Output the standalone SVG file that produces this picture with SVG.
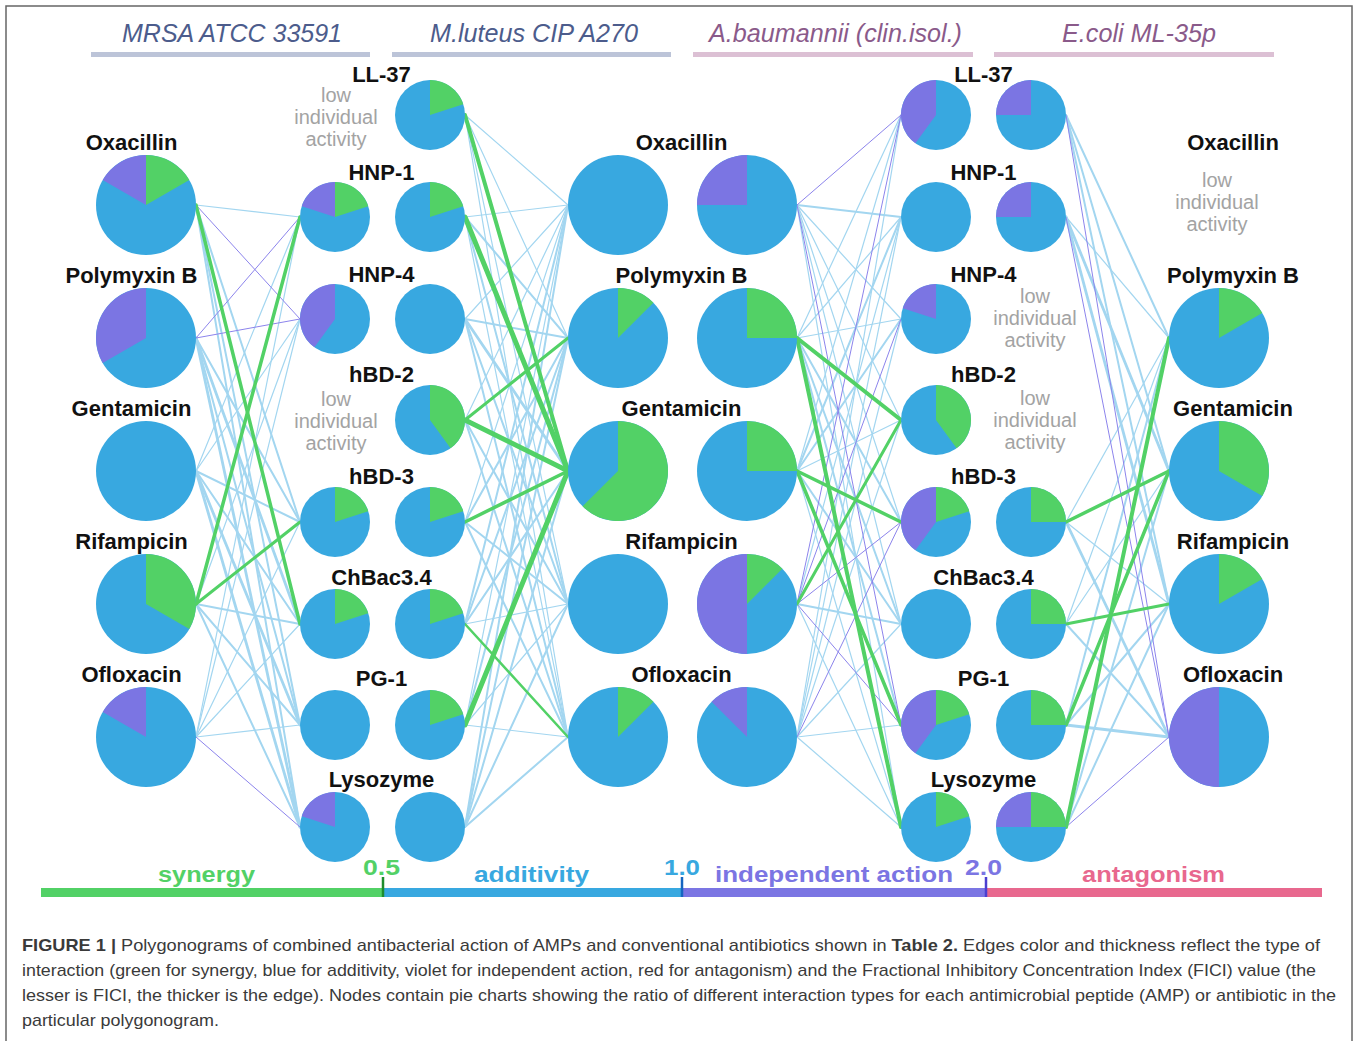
<svg xmlns="http://www.w3.org/2000/svg" width="1358" height="1041" viewBox="0 0 1358 1041">
<style>
.bl{stroke:#A3D6F0;fill:none;stroke-linecap:round}
.w1{stroke-width:1.2}.w2{stroke-width:2}.w3{stroke-width:2.8}
.vi{stroke:#8C84EC;stroke-width:1;fill:none}
.gr{stroke:#52D166;fill:none;stroke-linecap:round}
.pb{fill:#38A8E0}.pg{fill:#52D166}.pv{fill:#7B75E3}
.lab{font-family:"Liberation Sans",Arial,sans-serif;font-weight:bold;font-size:22px;text-anchor:middle;fill:#111}
.low{font-family:"Liberation Sans",Arial,sans-serif;font-size:20px;text-anchor:middle;fill:#A3A3A3}
.ttl{font-family:"Liberation Sans",Arial,sans-serif;font-style:italic;font-size:25px;text-anchor:middle}
.leg{font-family:"Liberation Sans",Arial,sans-serif;font-weight:bold;font-size:22px;text-anchor:middle}
.cap{font-family:"Liberation Sans",Arial,sans-serif;font-size:17px;fill:#3a3a3a}
</style>
<rect x="6" y="6" width="1346" height="1060" fill="#fff" stroke="#666" stroke-width="1.5"/>

<g id="titles">
<text class="ttl" x="232" y="42" fill="#4C5C8C" textLength="220" lengthAdjust="spacingAndGlyphs">MRSA ATCC 33591</text>
<text class="ttl" x="534" y="42" fill="#4C5C8C" textLength="208" lengthAdjust="spacingAndGlyphs">M.luteus CIP A270</text>
<text class="ttl" x="835.5" y="42" fill="#8A5A8A" textLength="253" lengthAdjust="spacingAndGlyphs">A.baumannii (clin.isol.)</text>
<text class="ttl" x="1139" y="42" fill="#8A5A8A" textLength="154" lengthAdjust="spacingAndGlyphs">E.coli ML-35p</text>
<rect x="91" y="52" width="279" height="5" fill="#BCC4D8"/>
<rect x="392" y="52" width="279" height="5" fill="#BCC4D8"/>
<rect x="693" y="52" width="280" height="5" fill="#DCC0D4"/>
<rect x="994" y="52" width="280" height="5" fill="#DCC0D4"/>
</g>

<g id="connectors">
<!-- MRSA blue -->
<line class="bl w1" x1="196" y1="205" x2="300" y2="217"/>
<line class="bl w2" x1="196" y1="205" x2="300" y2="522"/>
<line class="bl w2" x1="196" y1="205" x2="300" y2="725"/>
<line class="bl w2" x1="196" y1="205" x2="300" y2="827"/>
<line class="bl w2" x1="196" y1="338" x2="300" y2="522"/>
<line class="bl w3" x1="196" y1="338" x2="300" y2="624"/>
<line class="bl w2" x1="196" y1="338" x2="300" y2="725"/>
<line class="bl w3" x1="196" y1="338" x2="300" y2="827"/>
<line class="bl w1" x1="196" y1="471" x2="300" y2="217"/>
<line class="bl w1" x1="196" y1="471" x2="300" y2="319"/>
<line class="bl w2" x1="196" y1="471" x2="300" y2="522"/>
<line class="bl w2" x1="196" y1="471" x2="300" y2="624"/>
<line class="bl w3" x1="196" y1="471" x2="300" y2="725"/>
<line class="bl w3" x1="196" y1="471" x2="300" y2="827"/>
<line class="bl w1" x1="196" y1="604" x2="300" y2="319"/>
<line class="bl w2" x1="196" y1="604" x2="300" y2="624"/>
<line class="bl w2" x1="196" y1="604" x2="300" y2="725"/>
<line class="bl w2" x1="196" y1="604" x2="300" y2="827"/>
<line class="bl w1" x1="196" y1="737" x2="300" y2="217"/>
<line class="bl w1" x1="196" y1="737" x2="300" y2="319"/>
<line class="bl w1" x1="196" y1="737" x2="300" y2="522"/>
<line class="bl w1" x1="196" y1="737" x2="300" y2="624"/>
<line class="bl w1" x1="196" y1="737" x2="300" y2="725"/>
<!-- M.luteus blue -->
<line class="bl w1" x1="465" y1="115" x2="568" y2="205"/>
<line class="bl w1" x1="465" y1="115" x2="568" y2="338"/>
<line class="bl w1" x1="465" y1="115" x2="568" y2="604"/>
<line class="bl w1" x1="465" y1="115" x2="568" y2="737"/>
<line class="bl w1" x1="465" y1="217" x2="568" y2="205"/>
<line class="bl w2" x1="465" y1="217" x2="568" y2="338"/>
<line class="bl w2" x1="465" y1="217" x2="568" y2="604"/>
<line class="bl w1" x1="465" y1="217" x2="568" y2="737"/>
<line class="bl w1" x1="465" y1="319" x2="568" y2="205"/>
<line class="bl w2" x1="465" y1="319" x2="568" y2="338"/>
<line class="bl w3" x1="465" y1="319" x2="568" y2="471"/>
<line class="bl w2" x1="465" y1="319" x2="568" y2="604"/>
<line class="bl w2" x1="465" y1="319" x2="568" y2="737"/>
<line class="bl w1" x1="465" y1="420" x2="568" y2="205"/>
<line class="bl w2" x1="465" y1="420" x2="568" y2="604"/>
<line class="bl w2" x1="465" y1="420" x2="568" y2="737"/>
<line class="bl w1" x1="465" y1="522" x2="568" y2="205"/>
<line class="bl w2" x1="465" y1="522" x2="568" y2="338"/>
<line class="bl w2" x1="465" y1="522" x2="568" y2="604"/>
<line class="bl w2" x1="465" y1="522" x2="568" y2="737"/>
<line class="bl w2" x1="465" y1="624" x2="568" y2="205"/>
<line class="bl w2" x1="465" y1="624" x2="568" y2="338"/>
<line class="bl w2" x1="465" y1="624" x2="568" y2="471"/>
<line class="bl w1" x1="465" y1="624" x2="568" y2="604"/>
<line class="bl w1" x1="465" y1="725" x2="568" y2="205"/>
<line class="bl w2" x1="465" y1="725" x2="568" y2="338"/>
<line class="bl w1" x1="465" y1="725" x2="568" y2="604"/>
<line class="bl w1" x1="465" y1="725" x2="568" y2="737"/>
<line class="bl w2" x1="465" y1="827" x2="568" y2="205"/>
<line class="bl w2" x1="465" y1="827" x2="568" y2="338"/>
<line class="bl w2" x1="465" y1="827" x2="568" y2="471"/>
<line class="bl w2" x1="465" y1="827" x2="568" y2="604"/>
<line class="bl w2" x1="465" y1="827" x2="568" y2="737"/>
<!-- A.baumannii blue -->
<line class="bl w2" x1="797" y1="205" x2="901" y2="217"/>
<line class="bl w1" x1="797" y1="205" x2="901" y2="319"/>
<line class="bl w1" x1="797" y1="205" x2="901" y2="420"/>
<line class="bl w1" x1="797" y1="205" x2="901" y2="522"/>
<line class="bl w1" x1="797" y1="205" x2="901" y2="624"/>
<line class="bl w1" x1="797" y1="205" x2="901" y2="827"/>
<line class="bl w1" x1="797" y1="338" x2="901" y2="115"/>
<line class="bl w1" x1="797" y1="338" x2="901" y2="217"/>
<line class="bl w1" x1="797" y1="338" x2="901" y2="319"/>
<line class="bl w2" x1="797" y1="338" x2="901" y2="522"/>
<line class="bl w2" x1="797" y1="338" x2="901" y2="624"/>
<line class="bl w2" x1="797" y1="338" x2="901" y2="725"/>
<line class="bl w1" x1="797" y1="471" x2="901" y2="115"/>
<line class="bl w2" x1="797" y1="471" x2="901" y2="217"/>
<line class="bl w2" x1="797" y1="471" x2="901" y2="319"/>
<line class="bl w1" x1="797" y1="471" x2="901" y2="420"/>
<line class="bl w2" x1="797" y1="471" x2="901" y2="624"/>
<line class="bl w1" x1="797" y1="471" x2="901" y2="827"/>
<line class="bl w1" x1="797" y1="604" x2="901" y2="217"/>
<line class="bl w2" x1="797" y1="604" x2="901" y2="624"/>
<line class="bl w1" x1="797" y1="604" x2="901" y2="827"/>
<line class="bl w1" x1="797" y1="737" x2="901" y2="115"/>
<line class="bl w1" x1="797" y1="737" x2="901" y2="217"/>
<line class="bl w1" x1="797" y1="737" x2="901" y2="319"/>
<line class="bl w1" x1="797" y1="737" x2="901" y2="420"/>
<line class="bl w1" x1="797" y1="737" x2="901" y2="624"/>
<line class="bl w1" x1="797" y1="737" x2="901" y2="725"/>
<line class="bl w1" x1="797" y1="737" x2="901" y2="827"/>
<!-- E.coli blue -->
<line class="bl w2" x1="1066" y1="115" x2="1169" y2="338"/>
<line class="bl w2" x1="1066" y1="115" x2="1169" y2="471"/>
<line class="bl w2" x1="1066" y1="115" x2="1169" y2="604"/>
<line class="bl w1" x1="1066" y1="217" x2="1169" y2="338"/>
<line class="bl w3" x1="1066" y1="217" x2="1169" y2="471"/>
<line class="bl w3" x1="1066" y1="217" x2="1169" y2="604"/>
<line class="bl w1" x1="1066" y1="522" x2="1169" y2="338"/>
<line class="bl w1" x1="1066" y1="522" x2="1169" y2="604"/>
<line class="bl w3" x1="1066" y1="522" x2="1169" y2="737"/>
<line class="bl w1" x1="1066" y1="624" x2="1169" y2="338"/>
<line class="bl w1" x1="1066" y1="624" x2="1169" y2="471"/>
<line class="bl w2" x1="1066" y1="624" x2="1169" y2="737"/>
<line class="bl w2" x1="1066" y1="725" x2="1169" y2="338"/>
<line class="bl w2" x1="1066" y1="725" x2="1169" y2="604"/>
<line class="bl w3" x1="1066" y1="725" x2="1169" y2="737"/>
<line class="bl w2" x1="1066" y1="827" x2="1169" y2="471"/>
<line class="bl w2" x1="1066" y1="827" x2="1169" y2="604"/>
<!-- violet -->
<line class="vi" x1="196" y1="205" x2="300" y2="319"/>
<line class="vi" x1="196" y1="338" x2="300" y2="217"/>
<line class="vi" x1="196" y1="338" x2="300" y2="319"/>
<line class="vi" x1="196" y1="737" x2="300" y2="827"/>
<line class="vi" x1="797" y1="205" x2="901" y2="115"/>
<line class="vi" x1="797" y1="205" x2="901" y2="725"/>
<line class="vi" x1="797" y1="604" x2="901" y2="115"/>
<line class="vi" x1="797" y1="604" x2="901" y2="319"/>
<line class="vi" x1="797" y1="604" x2="901" y2="522"/>
<line class="vi" x1="797" y1="604" x2="901" y2="725"/>
<line class="vi" x1="797" y1="737" x2="901" y2="522"/>
<line class="vi" x1="1066" y1="115" x2="1169" y2="737"/>
<line class="vi" x1="1066" y1="217" x2="1169" y2="737"/>
<line class="vi" x1="1066" y1="827" x2="1169" y2="737"/>
<!-- green -->
<line class="gr" stroke-width="3.5" x1="196" y1="205" x2="300" y2="624"/>
<line class="gr" stroke-width="3.5" x1="196" y1="604" x2="300" y2="217"/>
<line class="gr" stroke-width="3" x1="196" y1="604" x2="300" y2="522"/>
<line class="gr" stroke-width="4" x1="465" y1="115" x2="568" y2="471"/>
<line class="gr" stroke-width="5" x1="465" y1="217" x2="568" y2="471"/>
<line class="gr" stroke-width="3" x1="465" y1="420" x2="568" y2="338"/>
<line class="gr" stroke-width="5" x1="465" y1="420" x2="568" y2="471"/>
<line class="gr" stroke-width="3.5" x1="465" y1="522" x2="568" y2="471"/>
<line class="gr" stroke-width="2.5" x1="465" y1="624" x2="568" y2="737"/>
<line class="gr" stroke-width="5" x1="465" y1="725" x2="568" y2="471"/>
<line class="gr" stroke-width="4" x1="797" y1="338" x2="901" y2="420"/>
<line class="gr" stroke-width="4" x1="797" y1="338" x2="901" y2="827"/>
<line class="gr" stroke-width="3.5" x1="797" y1="471" x2="901" y2="522"/>
<line class="gr" stroke-width="3.5" x1="797" y1="471" x2="901" y2="725"/>
<line class="gr" stroke-width="3" x1="797" y1="604" x2="901" y2="420"/>
<line class="gr" stroke-width="3.5" x1="1066" y1="522" x2="1169" y2="471"/>
<line class="gr" stroke-width="3" x1="1066" y1="624" x2="1169" y2="604"/>
<line class="gr" stroke-width="3.5" x1="1066" y1="725" x2="1169" y2="471"/>
<line class="gr" stroke-width="4" x1="1066" y1="827" x2="1169" y2="338"/>
</g>

<!-- MRSA antibiotics -->
<g id="mrsa-oxacillin"><text class="lab" x="131.5" y="150">Oxacillin</text><g transform="translate(146,205)"><circle class="pb" r="50"/><path class="pg" d="M0,0L0,-50A50,50 0 0 1 43.3,-25Z"/><path class="pv" d="M0,0L-43.3,-25A50,50 0 0 1 0,-50Z"/></g></g>
<g id="mrsa-polymyxin"><text class="lab" x="131.5" y="283">Polymyxin B</text><g transform="translate(146,338)"><circle class="pb" r="50"/><path class="pv" d="M0,0L-43.3,25A50,50 0 0 1 0,-50Z"/></g></g>
<g id="mrsa-gentamicin"><text class="lab" x="131.5" y="416">Gentamicin</text><g transform="translate(146,471)"><circle class="pb" r="50"/></g></g>
<g id="mrsa-rifampicin"><text class="lab" x="131.5" y="549">Rifampicin</text><g transform="translate(146,604)"><circle class="pb" r="50"/><path class="pg" d="M0,0L0,-50A50,50 0 0 1 43.3,25Z"/></g></g>
<g id="mrsa-ofloxacin"><text class="lab" x="131.5" y="682">Ofloxacin</text><g transform="translate(146,737)"><circle class="pb" r="50"/><path class="pv" d="M0,0L-43.3,-25A50,50 0 0 1 0,-50Z"/></g></g>

<!-- AMP labels (shared) -->
<g id="amp-labels-left">
<text class="lab" x="381.5" y="81.5">LL-37</text>
<text class="lab" x="381.5" y="180">HNP-1</text>
<text class="lab" x="381.5" y="282">HNP-4</text>
<text class="lab" x="381.5" y="382">hBD-2</text>
<text class="lab" x="381.5" y="484">hBD-3</text>
<text class="lab" x="381.5" y="585">ChBac3.4</text>
<text class="lab" x="381.5" y="686">PG-1</text>
<text class="lab" x="381.5" y="787">Lysozyme</text>
</g>
<g id="amp-labels-right">
<text class="lab" x="983.5" y="81.5">LL-37</text>
<text class="lab" x="983.5" y="180">HNP-1</text>
<text class="lab" x="983.5" y="282">HNP-4</text>
<text class="lab" x="983.5" y="382">hBD-2</text>
<text class="lab" x="983.5" y="484">hBD-3</text>
<text class="lab" x="983.5" y="585">ChBac3.4</text>
<text class="lab" x="983.5" y="686">PG-1</text>
<text class="lab" x="983.5" y="787">Lysozyme</text>
</g>

<!-- MRSA AMPs -->
<g id="mrsa-ll37-low"><text class="low" x="336" y="101.5">low</text><text class="low" x="336" y="123.5">individual</text><text class="low" x="336" y="145.5">activity</text></g>
<g id="mrsa-hnp1" transform="translate(335,217)"><circle class="pb" r="35"/><path class="pg" d="M0,0L0,-35A35,35 0 0 1 33.29,-10.82Z"/><path class="pv" d="M0,0L-33.29,-10.82A35,35 0 0 1 0,-35Z"/></g>
<g id="mrsa-hnp4" transform="translate(335,319)"><circle class="pb" r="35"/><path class="pv" d="M0,0L-20.57,28.32A35,35 0 0 1 0,-35Z"/></g>
<g id="mrsa-hbd2-low"><text class="low" x="336" y="405.5">low</text><text class="low" x="336" y="427.5">individual</text><text class="low" x="336" y="449.5">activity</text></g>
<g id="mrsa-hbd3" transform="translate(335,522)"><circle class="pb" r="35"/><path class="pg" d="M0,0L0,-35A35,35 0 0 1 33.29,-10.82Z"/></g>
<g id="mrsa-chbac" transform="translate(335,624)"><circle class="pb" r="35"/><path class="pg" d="M0,0L0,-35A35,35 0 0 1 33.29,-10.82Z"/></g>
<g id="mrsa-pg1" transform="translate(335,725)"><circle class="pb" r="35"/></g>
<g id="mrsa-lysozyme" transform="translate(335,827)"><circle class="pb" r="35"/><path class="pv" d="M0,0L-33.29,-10.82A35,35 0 0 1 0,-35Z"/></g>

<!-- M.luteus AMPs -->
<g id="mlut-ll37" transform="translate(430,115)"><circle class="pb" r="35"/><path class="pg" d="M0,0L0,-35A35,35 0 0 1 33.29,-10.82Z"/></g>
<g id="mlut-hnp1" transform="translate(430,217)"><circle class="pb" r="35"/><path class="pg" d="M0,0L0,-35A35,35 0 0 1 33.29,-10.82Z"/></g>
<g id="mlut-hnp4" transform="translate(430,319)"><circle class="pb" r="35"/></g>
<g id="mlut-hbd2" transform="translate(430,420)"><circle class="pb" r="35"/><path class="pg" d="M0,0L0,-35A35,35 0 0 1 20.57,28.32Z"/></g>
<g id="mlut-hbd3" transform="translate(430,522)"><circle class="pb" r="35"/><path class="pg" d="M0,0L0,-35A35,35 0 0 1 33.29,-10.82Z"/></g>
<g id="mlut-chbac" transform="translate(430,624)"><circle class="pb" r="35"/><path class="pg" d="M0,0L0,-35A35,35 0 0 1 33.29,-10.82Z"/></g>
<g id="mlut-pg1" transform="translate(430,725)"><circle class="pb" r="35"/><path class="pg" d="M0,0L0,-35A35,35 0 0 1 33.29,-10.82Z"/></g>
<g id="mlut-lysozyme" transform="translate(430,827)"><circle class="pb" r="35"/></g>

<!-- antibiotic labels middle (shared) -->
<g id="antibiotic-labels-mid">
<text class="lab" x="681.5" y="150">Oxacillin</text>
<text class="lab" x="681.5" y="283">Polymyxin B</text>
<text class="lab" x="681.5" y="416">Gentamicin</text>
<text class="lab" x="681.5" y="549">Rifampicin</text>
<text class="lab" x="681.5" y="682">Ofloxacin</text>
</g>

<!-- M.luteus antibiotics -->
<g id="mlut-oxacillin" transform="translate(618,205)"><circle class="pb" r="50"/></g>
<g id="mlut-polymyxin" transform="translate(618,338)"><circle class="pb" r="50"/><path class="pg" d="M0,0L0,-50A50,50 0 0 1 35.36,-35.36Z"/></g>
<g id="mlut-gentamicin" transform="translate(618,471)"><circle class="pb" r="50"/><path class="pg" d="M0,0L0,-50A50,50 0 1 1 -35.36,35.36Z"/></g>
<g id="mlut-rifampicin" transform="translate(618,604)"><circle class="pb" r="50"/></g>
<g id="mlut-ofloxacin" transform="translate(618,737)"><circle class="pb" r="50"/><path class="pg" d="M0,0L0,-50A50,50 0 0 1 35.36,-35.36Z"/></g>

<!-- A.baumannii antibiotics -->
<g id="abau-oxacillin" transform="translate(747,205)"><circle class="pb" r="50"/><path class="pv" d="M0,0L-50,0A50,50 0 0 1 0,-50Z"/></g>
<g id="abau-polymyxin" transform="translate(747,338)"><circle class="pb" r="50"/><path class="pg" d="M0,0L0,-50A50,50 0 0 1 50,0Z"/></g>
<g id="abau-gentamicin" transform="translate(747,471)"><circle class="pb" r="50"/><path class="pg" d="M0,0L0,-50A50,50 0 0 1 50,0Z"/></g>
<g id="abau-rifampicin" transform="translate(747,604)"><circle class="pb" r="50"/><path class="pg" d="M0,0L0,-50A50,50 0 0 1 35.36,-35.36Z"/><path class="pv" d="M0,0L0,50A50,50 0 0 1 0,-50Z"/></g>
<g id="abau-ofloxacin" transform="translate(747,737)"><circle class="pb" r="50"/><path class="pv" d="M0,0L-35.36,-35.36A50,50 0 0 1 0,-50Z"/></g>

<!-- A.baumannii AMPs -->
<g id="abau-ll37" transform="translate(936,115)"><circle class="pb" r="35"/><path class="pv" d="M0,0L-20.57,28.32A35,35 0 0 1 0,-35Z"/></g>
<g id="abau-hnp1" transform="translate(936,217)"><circle class="pb" r="35"/></g>
<g id="abau-hnp4" transform="translate(936,319)"><circle class="pb" r="35"/><path class="pv" d="M0,0L-33.29,-10.82A35,35 0 0 1 0,-35Z"/></g>
<g id="abau-hbd2" transform="translate(936,420)"><circle class="pb" r="35"/><path class="pg" d="M0,0L0,-35A35,35 0 0 1 20.57,28.32Z"/></g>
<g id="abau-hbd3" transform="translate(936,522)"><circle class="pb" r="35"/><path class="pg" d="M0,0L0,-35A35,35 0 0 1 33.29,-10.82Z"/><path class="pv" d="M0,0L-20.57,28.32A35,35 0 0 1 0,-35Z"/></g>
<g id="abau-chbac" transform="translate(936,624)"><circle class="pb" r="35"/></g>
<g id="abau-pg1" transform="translate(936,725)"><circle class="pb" r="35"/><path class="pg" d="M0,0L0,-35A35,35 0 0 1 33.29,-10.82Z"/><path class="pv" d="M0,0L-20.57,28.32A35,35 0 0 1 0,-35Z"/></g>
<g id="abau-lysozyme" transform="translate(936,827)"><circle class="pb" r="35"/><path class="pg" d="M0,0L0,-35A35,35 0 0 1 33.29,-10.82Z"/></g>

<!-- E.coli AMPs -->
<g id="ecoli-ll37" transform="translate(1031,115)"><circle class="pb" r="35"/><path class="pv" d="M0,0L-35,0A35,35 0 0 1 0,-35Z"/></g>
<g id="ecoli-hnp1" transform="translate(1031,217)"><circle class="pb" r="35"/><path class="pv" d="M0,0L-35,0A35,35 0 0 1 0,-35Z"/></g>
<g id="ecoli-hnp4-low"><text class="low" x="1035" y="303">low</text><text class="low" x="1035" y="325">individual</text><text class="low" x="1035" y="347">activity</text></g>
<g id="ecoli-hbd2-low"><text class="low" x="1035" y="405">low</text><text class="low" x="1035" y="427">individual</text><text class="low" x="1035" y="449">activity</text></g>
<g id="ecoli-hbd3" transform="translate(1031,522)"><circle class="pb" r="35"/><path class="pg" d="M0,0L0,-35A35,35 0 0 1 35,0Z"/></g>
<g id="ecoli-chbac" transform="translate(1031,624)"><circle class="pb" r="35"/><path class="pg" d="M0,0L0,-35A35,35 0 0 1 35,0Z"/></g>
<g id="ecoli-pg1" transform="translate(1031,725)"><circle class="pb" r="35"/><path class="pg" d="M0,0L0,-35A35,35 0 0 1 35,0Z"/></g>
<g id="ecoli-lysozyme" transform="translate(1031,827)"><circle class="pb" r="35"/><path class="pg" d="M0,0L0,-35A35,35 0 0 1 35,0Z"/><path class="pv" d="M0,0L-35,0A35,35 0 0 1 0,-35Z"/></g>

<!-- E.coli antibiotics -->
<g id="ecoli-oxacillin"><text class="lab" x="1233" y="150">Oxacillin</text><text class="low" x="1217" y="187">low</text><text class="low" x="1217" y="209">individual</text><text class="low" x="1217" y="231">activity</text></g>
<g id="ecoli-polymyxin"><text class="lab" x="1233" y="283">Polymyxin B</text><g transform="translate(1219,338)"><circle class="pb" r="50"/><path class="pg" d="M0,0L0,-50A50,50 0 0 1 43.3,-25Z"/></g></g>
<g id="ecoli-gentamicin"><text class="lab" x="1233" y="416">Gentamicin</text><g transform="translate(1219,471)"><circle class="pb" r="50"/><path class="pg" d="M0,0L0,-50A50,50 0 0 1 43.3,25Z"/></g></g>
<g id="ecoli-rifampicin"><text class="lab" x="1233" y="549">Rifampicin</text><g transform="translate(1219,604)"><circle class="pb" r="50"/><path class="pg" d="M0,0L0,-50A50,50 0 0 1 43.3,-25Z"/></g></g>
<g id="ecoli-ofloxacin"><text class="lab" x="1233" y="682">Ofloxacin</text><g transform="translate(1219,737)"><circle class="pb" r="50"/><path class="pv" d="M0,0L0,50A50,50 0 0 1 0,-50Z"/></g></g>

<!-- legend -->
<g id="legend">
<rect x="41" y="888" width="342" height="9" fill="#52D166"/>
<rect x="383" y="888" width="299" height="9" fill="#38A8E0"/>
<rect x="682" y="888" width="304" height="9" fill="#7B75E3"/>
<rect x="986" y="888" width="336" height="9" fill="#E8688E"/>
<line x1="383" y1="877" x2="383" y2="897" stroke="#1E8C2E" stroke-width="2.5"/>
<line x1="682" y1="877" x2="682" y2="897" stroke="#1565C0" stroke-width="2.5"/>
<line x1="986" y1="877" x2="986" y2="897" stroke="#4B3FD0" stroke-width="2.5"/>
<text class="leg" x="206.5" y="882" fill="#52D166" textLength="97" lengthAdjust="spacingAndGlyphs">synergy</text>
<text class="leg" x="381.5" y="875" fill="#52D166" textLength="37" lengthAdjust="spacingAndGlyphs">0.5</text>
<text class="leg" x="531.5" y="882" fill="#38A8E0" textLength="115" lengthAdjust="spacingAndGlyphs">additivity</text>
<text class="leg" x="682" y="875" fill="#38A8E0" textLength="36" lengthAdjust="spacingAndGlyphs">1.0</text>
<text class="leg" x="834" y="882" fill="#7B75E3" textLength="238" lengthAdjust="spacingAndGlyphs">independent action</text>
<text class="leg" x="983.5" y="875" fill="#7B75E3" textLength="37" lengthAdjust="spacingAndGlyphs">2.0</text>
<text class="leg" x="1153.5" y="882" fill="#E8688E" textLength="143" lengthAdjust="spacingAndGlyphs">antagonism</text>
</g>

<!-- caption -->
<g id="caption">
<text class="cap" x="22" y="951" textLength="1298" lengthAdjust="spacingAndGlyphs"><tspan font-weight="bold">FIGURE 1 |</tspan> Polygonograms of combined antibacterial action of AMPs and conventional antibiotics shown in <tspan font-weight="bold">Table 2.</tspan> Edges color and thickness reflect the type of</text>
<text class="cap" x="22" y="976" textLength="1294" lengthAdjust="spacingAndGlyphs">interaction (green for synergy, blue for additivity, violet for independent action, red for antagonism) and the Fractional Inhibitory Concentration Index (FICI) value (the</text>
<text class="cap" x="22" y="1001" textLength="1314" lengthAdjust="spacingAndGlyphs">lesser is FICI, the thicker is the edge). Nodes contain pie charts showing the ratio of different interaction types for each antimicrobial peptide (AMP) or antibiotic in the</text>
<text class="cap" x="22" y="1026" textLength="197" lengthAdjust="spacingAndGlyphs">particular polygonogram.</text>
</g>
</svg>
